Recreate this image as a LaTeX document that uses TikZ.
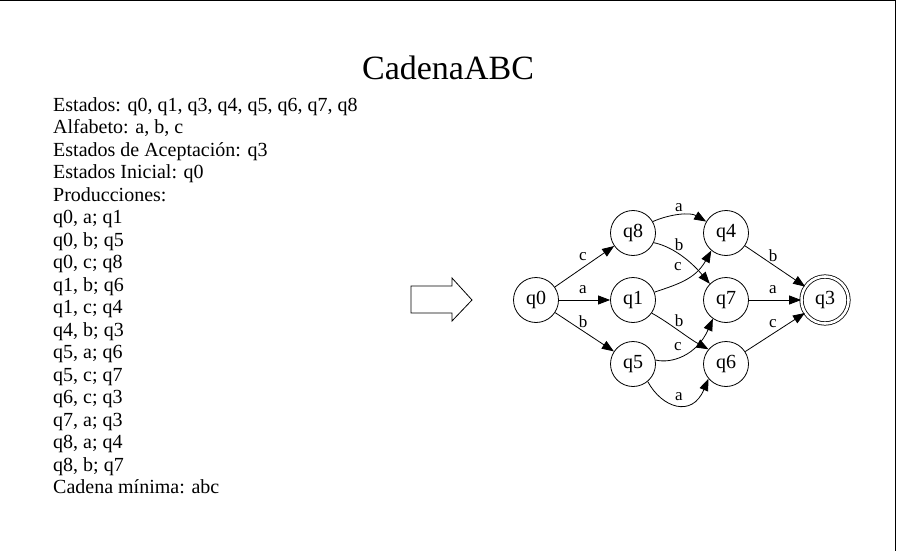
\documentclass[tikz,border=0pt]{standalone}
\usepackage{fontspec}
\setmainfont{Liberation Serif}
\usetikzlibrary{positioning, arrows.meta}

\begin{document}
\begin{tikzpicture}[
  x=1pt, y=-1pt,
  >={Triangle[length=12pt, width=9pt]},
  state/.style  = {circle, draw, thick, minimum size=45pt, inner sep=0pt, font=\fontsize{20}{20}\selectfont},
  accept/.style = {state, double, double distance=2.6pt, minimum size=47pt},
  trans/.style  = {->, thick},
  lbl/.style    = {font=\fontsize{17}{17}\selectfont, inner sep=1pt},
  info/.style   = {align=left, anchor=north west, inner sep=0pt, font=\fontsize{20}{22.5}\selectfont},
]
  \useasboundingbox (0,0) rectangle (897,551);
  \draw[thick] (0,0.6) -- (895,0.6) -- (895,551);

  \node[font=\fontsize{34}{34}\selectfont, anchor=base] (title) at (448,79) {CadenaABC};
  \node[info] (datos) at (53,97) {Estados: q0, q1, q3, q4, q5, q6, q7, q8\\
    Alfabeto: a, b, c\\
    Estados de Aceptación: q3\\
    Estados Inicial: q0\\
    Producciones:\\
    q0, a; q1\\
    q0, b; q5\\
    q0, c; q8\\
    q1, b; q6\\
    q1, c; q4\\
    q4, b; q3\\
    q5, a; q6\\
    q5, c; q7\\
    q6, c; q3\\
    q7, a; q3\\
    q8, a; q4\\
    q8, b; q7\\
    Cadena mínima: abc};

  % flecha grande
  \draw[thick] (411,286) -- (452,286) -- (452,278) -- (472,300) -- (452,321)
    -- (452,313) -- (411,313) -- cycle;

  % estados
  \node[state]  (q0) at (536,300) {q0};
  \node[state]  (q8) at (633,233) {q8};
  \node[state]  (q1) at (633,300) {q1};
  \node[state]  (q5) at (633,364) {q5};
  \node[state]  (q4) at (726,233) {q4};
  \node[state]  (q7) at (726,300) {q7};
  \node[state]  (q6) at (726,364) {q6};
  \node[accept] (q3) at (825,300) {q3};

  % transiciones
  \draw[trans] (q0) -- (q8);
  \draw[trans] (q0) -- (q1);
  \draw[trans] (q0) -- (q5);
  \draw[trans] (q8.30) .. controls (670,214) and (690,212) .. (q4.150);
  \draw[trans] (q8.-25) .. controls (670,246) and (688,258) .. (q7.135);
  \draw[trans] (q1.20) .. controls (675,285) and (695,280) .. (q4.230);
  \draw[trans] (q1.-35) .. controls (668,322) and (688,338) .. (q6.140);
  \draw[trans] (q5.10) .. controls (672,364) and (697,355) .. (q7.235);
  \draw[trans] (q5.-50) .. controls (662,408) and (692,418) .. (q6.220);
  \foreach \a in {q4,q7,q6}\draw[trans] (\a) -- (q3);

  % etiquetas
  \node[lbl] (l1)  at (583,257) {c};
  \node[lbl] (l2)  at (583,290) {a};
  \node[lbl] (l3)  at (583,322) {b};
  \node[lbl] (l4)  at (679,208) {a};
  \node[lbl] (l5)  at (679,245) {b};
  \node[lbl] (l6)  at (678,267) {c};
  \node[lbl] (l7)  at (679,321) {b};
  \node[lbl] (l8)  at (678,347) {c};
  \node[lbl] (l9)  at (679,397) {a};
  \node[lbl] (l10) at (773,256) {b};
  \node[lbl] (l11) at (773,290) {a};
  \node[lbl] (l12) at (773,324) {c};
\end{tikzpicture}
\end{document}
